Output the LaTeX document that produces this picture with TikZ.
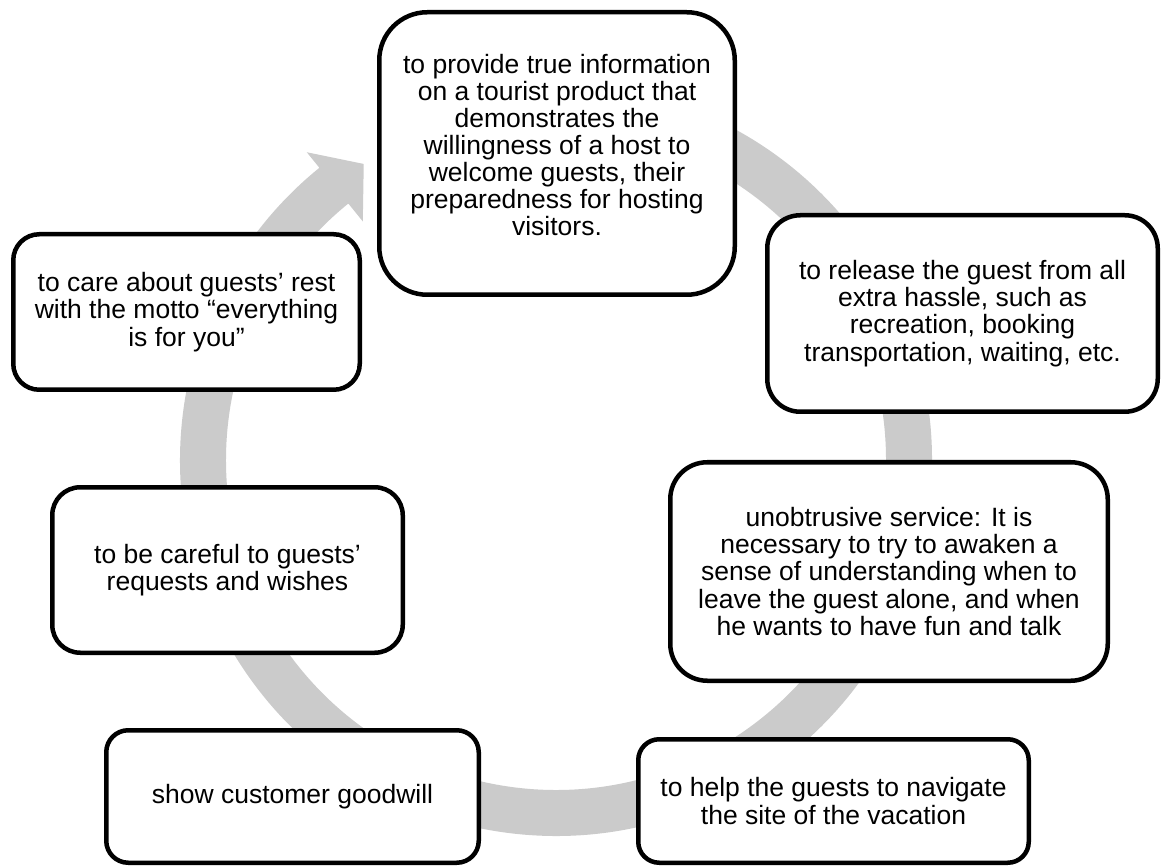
\documentclass[tikz,border=0pt]{standalone}
\usepackage{fontspec}
\setmainfont{Liberation Sans}
\definecolor{bandgrey}{RGB}{203,203,203}
\begin{document}
\begin{tikzpicture}[x=1pt,y=-1pt,
  box/.style={draw=black, line width=4.5pt, fill=white, align=center, inner sep=0pt,
    font=\fontsize{26.5}{27.2}\selectfont},
  band/.style={fill=bandgrey, draw=none}
]
\useasboundingbox (0,0) rectangle (1165,866);
% circular arrow band
\fill[band, shift={(556,460)}]
  (275:376) arc[start angle=275, end angle=591, radius=376]
  -- (591:396) -- (597:353) -- (591:307) -- (591:330)
  arc[start angle=591, end angle=275, radius=330] -- cycle;
% boxes
\node[box, rounded corners=48pt, minimum width=355.5pt, minimum height=282.5pt, text depth=18pt,
  font=\fontsize{26.5}{27}\selectfont] (top) at (557,153.5)
  {to provide true information\\on a tourist product that\\demonstrates the\\willingness of a host to\\welcome guests, their\\preparedness for hosting\\visitors.};
\node[box, rounded corners=33pt, minimum width=390.5pt, minimum height=196.5pt] (release) at (962.5,313.5)
  {to release the guest from all\\extra hassle, such as\\recreation, booking\\transportation, waiting, etc.};
\node[box, rounded corners=37pt, minimum width=437.5pt, minimum height=218.5pt] (unob) at (889,571.5)
  {unobtrusive service: It is\\necessary to try to awaken a\\sense of understanding when to\\leave the guest alone, and when\\he wants to have fun and talk};
\node[box, rounded corners=21pt, minimum width=390.5pt, minimum height=123.5pt] (help) at (833.5,801)
  {to help the guests to navigate\\the site of the vacation};
\node[box, rounded corners=22pt, minimum width=372.5pt, minimum height=132.5pt] (goodwill) at (292.5,796.5)
  {show customer goodwill};
\node[box, rounded corners=28pt, minimum width=350.5pt, minimum height=165.5pt] (careful) at (227.5,570)
  {to be careful to guests’\\requests and wishes};
\node[box, rounded corners=26pt, minimum width=346.5pt, minimum height=155.5pt] (care) at (186.5,312)
  {to care about guests’ rest\\with the motto “everything\\is for you”};
\end{tikzpicture}
\end{document}
